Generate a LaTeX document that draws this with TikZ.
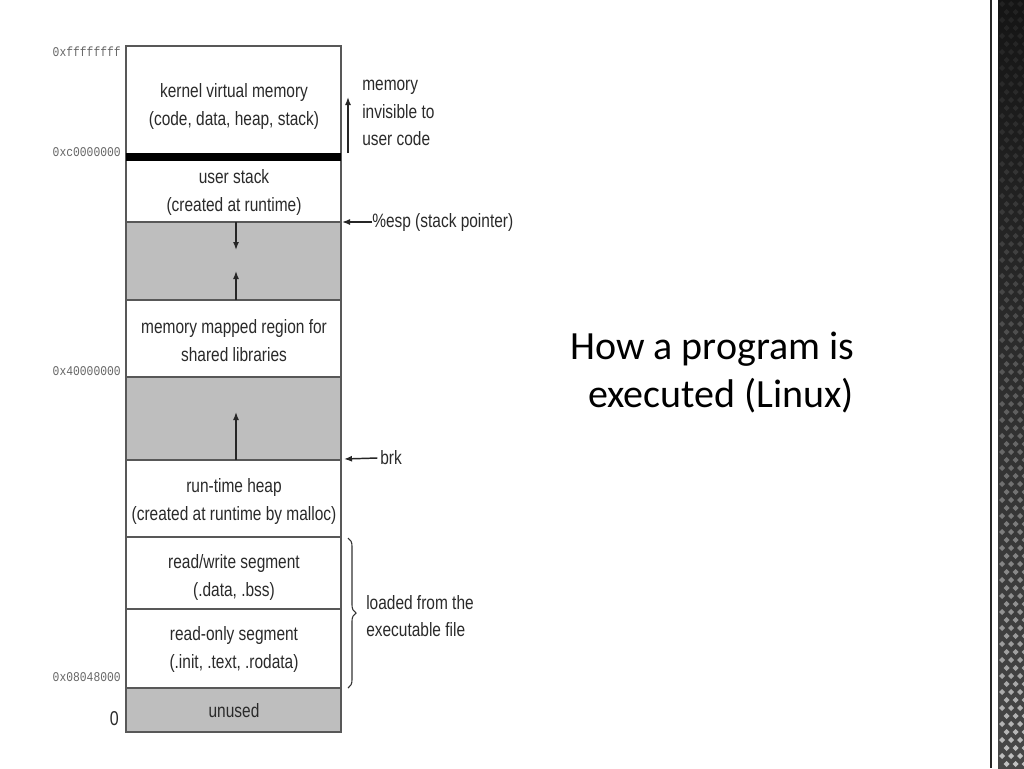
\documentclass[tikz,border=0pt]{standalone}
\usepackage{fontspec}
\setmainfont{Liberation Sans}
\newfontfamily\titlefont{Carlito}
\newfontfamily\diagfont[FakeStretch=0.8]{Liberation Sans}
\newfontfamily\addrfont[FakeStretch=0.85]{Liberation Mono}
\usetikzlibrary{arrows.meta,decorations.pathreplacing}
\definecolor{linegray}{HTML}{585858}
\definecolor{fillgray}{HTML}{BEBEBE}
\definecolor{txtgray}{HTML}{2A2A2A}
\definecolor{addrgray}{HTML}{666666}
\tikzset{
  seg/.style={draw=linegray, line width=1.5pt},
  gapseg/.style={seg, fill=fillgray},
  lbl/.style={font=\diagfont\fontsize{14.5}{21}\selectfont, text=txtgray, align=center, inner sep=0pt},
  side/.style={font=\diagfont\fontsize{14.5}{20.5}\selectfont, text=txtgray, align=left, inner sep=0pt},
  addr/.style={font=\addrfont\fontsize{10}{11}\selectfont, text=addrgray, inner sep=0pt, anchor=east},
  arr/.style={draw=black!85, line width=1.1pt, -{Latex[length=6pt,width=4.5pt]}},
  ttl/.style={font=\titlefont\fontsize{30}{36}\selectfont, text=black, inner sep=0pt, anchor=base west}
}
\begin{document}
\begin{tikzpicture}[x=0.75pt,y=-0.75pt]
\useasboundingbox (0,0) rectangle (1024,768);
\fill[white] (0,0) rectangle (1024,768);

% segments
\draw[seg] (126,46) rectangle (341,157);
\draw[seg] (126,157) rectangle (341,222);
\draw[gapseg] (126,222) rectangle (341,300);
\draw[seg] (126,300) rectangle (341,377);
\draw[gapseg] (126,377) rectangle (341,460);
\draw[seg] (126,460) rectangle (341,537);
\draw[seg] (126,537) rectangle (341,609);
\draw[seg] (126,609) rectangle (341,688);
\draw[gapseg] (126,688) rectangle (341,732);
\fill[black] (126,153) rectangle (341,161);

% segment labels
\node[lbl] (kern) at (234,106) {kernel virtual memory\\(code, data, heap, stack)};
\node[lbl] (ustack) at (234,192) {user stack\\(created at runtime)};
\node[lbl] (mmap) at (234,341) {memory mapped region for\\shared libraries};
\node[lbl] (heap) at (234,501) {run-time heap\\(created at runtime by malloc)};
\node[lbl] (rw) at (234,577) {read/write segment\\(.data, .bss)};
\node[lbl] (ro) at (234,649) {read-only segment\\(.init, .text, .rodata)};
\node[lbl] (unused) at (234,711) {unused};

% addresses
\node[addr] (a1) at (121,52) {0xffffffff};
\node[addr] (a2) at (121,152) {0xc0000000};
\node[addr] (a3) at (121,371) {0x40000000};
\node[addr] (a4) at (121,677) {0x08048000};
\node[font=\diagfont\fontsize{15}{17}\selectfont, text=txtgray, inner sep=0pt, anchor=east] (a0) at (119,719) {0};

% arrows inside gaps
\coordinate (s1) at (236,222);
\coordinate (s2) at (236,250);
\coordinate (m1) at (236,300);
\coordinate (m2) at (236,271);
\coordinate (h1) at (236,460);
\coordinate (h2) at (236,412);
\draw[arr] (s1) -- (s2);
\draw[arr] (m1) -- (m2);
\draw[arr] (h1) -- (h2);

% side annotations
\coordinate (k1) at (348,153);
\coordinate (k2) at (348,97);
\draw[arr] (k1) -- (k2);
\node[side, anchor=north west] (inv) at (362,80) {memory\\invisible to\\user code};

\node[side, anchor=west] (esp) at (372,222) {\%esp (stack pointer)};
\coordinate (e2) at (342,222);
\draw[arr] (esp.west) -- (e2);

\node[side, anchor=west] (brk) at (380,458) {brk};
\coordinate (b2) at (344,459);
\draw[arr] ([xshift=-2pt]brk.west) -- (b2);

\coordinate (br1) at (348,538);
\coordinate (br2) at (348,688);
\draw[draw=black!80, line width=0.8pt, decorate, decoration={brace, amplitude=6pt}] (br1) -- (br2);
\node[side, anchor=west] (load) at (366,616) {loaded from the\\executable file};

% title
\node[ttl] (t1) at (570,359) {How a program is};
\node[ttl] (t2) at (588,407) {executed (Linux)};

% right decorative strip
\fill[black!85] (989.5,0) rectangle (992,768);
\shade[top color=black!92, bottom color=black!72] (998,0) rectangle (1024,768);
\foreach \r in {0,...,95} {
  \pgfmathsetmacro\op{0.06+0.6*(\r/95)^2}
  \pgfmathsetmacro\yy{\r*8+4}
  \pgfmathsetmacro\xo{mod(\r,2)*4.5}
  \foreach \k in {0,1,2} {
    \pgfmathsetmacro\xx{1002+\xo+\k*9}
    \fill[white, opacity=\op] (\xx,\yy-3) -- (\xx+3,\yy) -- (\xx,\yy+3) -- (\xx-3,\yy) -- cycle;
  }
}
\end{tikzpicture}
\end{document}
